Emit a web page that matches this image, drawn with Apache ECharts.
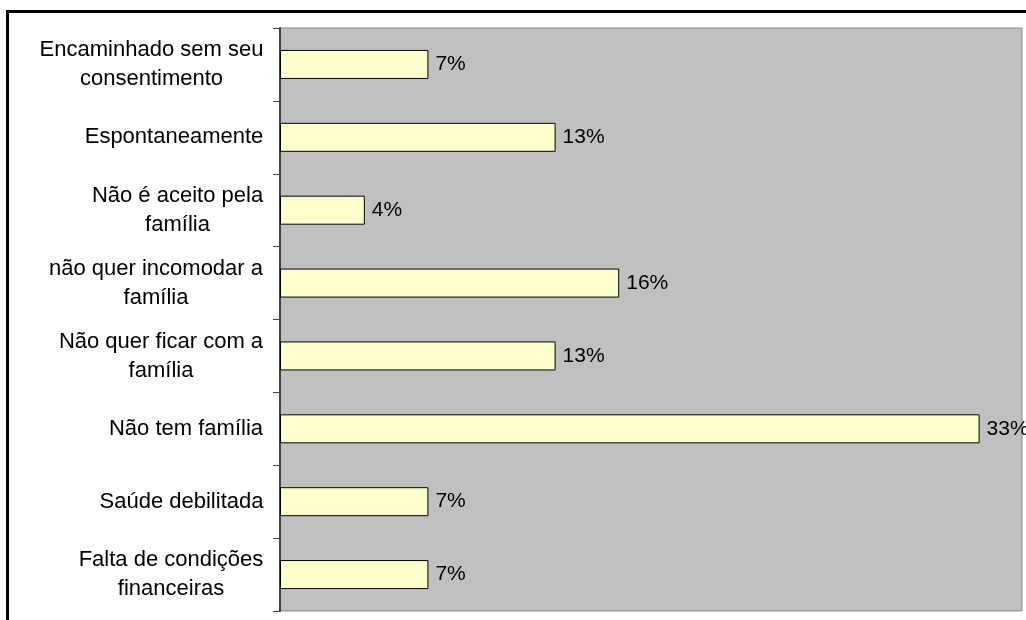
<!DOCTYPE html>
<html>
<head>
<meta charset="utf-8">
<script src="https://cdn.jsdelivr.net/npm/echarts@6/dist/echarts.min.js"></script>
<style>
html,body{margin:0;padding:0;background:#fff;}
#chart{width:1026px;height:620px;}
</style>
</head>
<body>
<div id="chart"></div>
<script>
// categories top to bottom
var categorias = [
	'Encaminhado sem seu\nconsentimento',
	'Espontaneamente',
	'Não é aceito pela\nfamília',
	'não quer incomodar a\nfamília',
	'Não quer ficar com a\nfamília',
	'Não tem família',
	'Saúde debilitada',
	'Falta de condições\nfinanceiras'
];
var valores = [7, 13, 4, 16, 13, 33, 7, 7];

var fonte = '"Liberation Sans", Arial, sans-serif';
var tamFonte = 22;

// width of each label block so the lines can be centred inside it
var cv = document.createElement('canvas').getContext('2d');
cv.font = tamFonte + 'px ' + fonte;
var rich = {};
for (var i = 0; i < categorias.length; i++) {
	var linhas = categorias[i].split('\n');
	var w = 0;
	for (var j = 0; j < linhas.length; j++) {
		w = Math.max(w, cv.measureText(linhas[j]).width);
	}
	rich['w' + i] = {
		width: Math.ceil(w) + 1,
		align: 'center',
		fontSize: tamFonte,
		fontFamily: fonte,
		color: '#000',
		lineHeight: 29
	};
}

var myChart = echarts.init(document.getElementById('chart'));
var option = {
	animation: false,
	grid: {
		show: true,
		left: 280,
		top: 28,
		right: 4,
		bottom: 9,
		backgroundColor: '#c0c0c0',
		borderColor: '#8a8a8a',
		borderWidth: 1
	},
	xAxis: {
		type: 'value',
		min: 0,
		max: 35,
		show: false,
		splitLine: {show: false}
	},
	yAxis: {
		type: 'category',
		inverse: true,
		data: categorias,
		axisLine: {lineStyle: {color: '#404040', width: 2}},
		axisTick: {show: true, length: 7, lineStyle: {color: '#404040', width: 1}},
		axisLabel: {
			margin: 16,
			formatter: function (v, idx) {
				return v.split('\n').map(function (l) {
					return '{w' + idx + '|' + l + '}';
				}).join('\n');
			},
			rich: rich
		}
	},
	graphic: [{
		type: 'rect',
		silent: true,
		z: 100,
		shape: {x: 7.5, y: 11.5, width: 1040, height: 640},
		style: {fill: 'none', stroke: '#000', lineWidth: 3}
	}],
	series: [{
		type: 'bar',
		data: valores,
		barWidth: 29,
		itemStyle: {color: '#ffffcc', borderColor: '#000', borderWidth: 1},
		label: {
			show: true,
			position: 'right',
			distance: 7,
			formatter: '{c}%',
			color: '#000',
			fontSize: 21,
			fontFamily: fonte
		}
	}]
};
myChart.setOption(option);
</script>
</body>
</html>
